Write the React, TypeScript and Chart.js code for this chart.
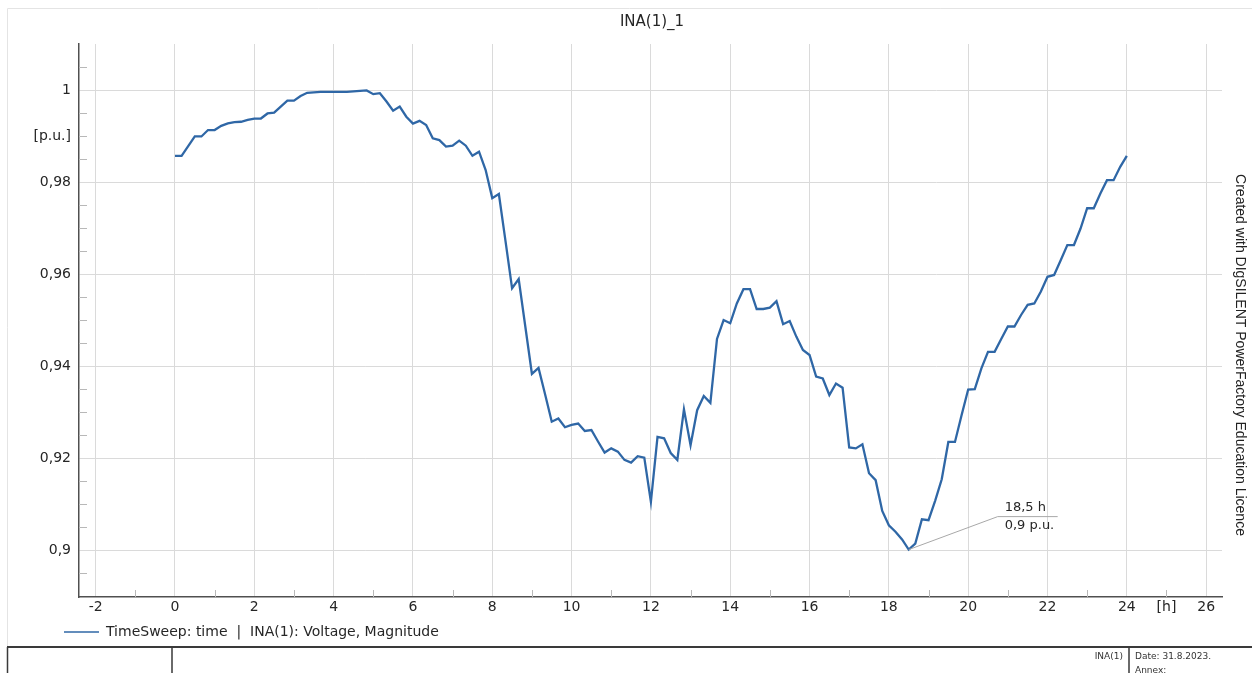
import React, { useEffect, useRef } from 'react';
import { Chart, registerables } from 'chart.js';

Chart.register(...registerables);

const TITLE = 'INA(1)_1';
const LEGEND_LABEL = 'TimeSweep: time  |  INA(1): Voltage, Magnitude';
const WATERMARK = 'Created with DIgSILENT PowerFactory Education Licence';
const FOOTER_OBJECT = 'INA(1)';
const FOOTER_DATE = 'Date: 31.8.2023.';
const FOOTER_ANNEX = 'Annex:';

// 10-minute time sweep (hours)
const STEP_HOURS = 1 / 6;

// Voltage magnitude [p.u.], one value per 10 min from 0 h to 24 h
const voltage: number[] = [
  // 0 h
  0.9857, 0.9857, 0.9878, 0.9899, 0.9899, 0.9913,
  // 1 h
  0.9913, 0.9922, 0.99275, 0.993, 0.9931, 0.9935,
  // 2 h
  0.9938, 0.9938, 0.9949, 0.9951, 0.9964, 0.9977,
  // 3 h
  0.9977, 0.9987, 0.9994, 0.9995, 0.9996, 0.9996,
  // 4 h
  0.9996, 0.9996, 0.9996, 0.9997, 0.9998, 0.9999,
  // 5 h
  0.9991, 0.9993, 0.9975, 0.9955, 0.9964, 0.9942,
  // 6 h
  0.9927, 0.9933, 0.9924, 0.9895, 0.9891, 0.9877,
  // 7 h
  0.9879, 0.989, 0.9879, 0.9857, 0.9866, 0.9826,
  // 8 h
  0.9765, 0.9774, 0.9672, 0.9569, 0.9589, 0.9486,
  // 9 h
  0.9383, 0.9396, 0.9338, 0.9279, 0.9286, 0.9267,
  // 10 h
  0.9272, 0.9275, 0.9259, 0.9261, 0.9236, 0.9212,
  // 11 h
  0.9221, 0.9214, 0.9196, 0.919, 0.9204, 0.9201,
  // 12 h
  0.9105, 0.9246, 0.9243, 0.9211, 0.9196, 0.9306,
  // 13 h
  0.9228, 0.9304, 0.9335, 0.932, 0.9459, 0.95,
  // 14 h
  0.9493, 0.9536, 0.9567, 0.9567, 0.9524, 0.9524,
  // 15 h
  0.9527, 0.9541, 0.9491, 0.9498, 0.9464, 0.9435,
  // 16 h
  0.9424, 0.9377, 0.9373, 0.9337, 0.9362, 0.9353,
  // 17 h
  0.9223, 0.9221, 0.923, 0.9167, 0.9152, 0.9085,
  // 18 h
  0.9054, 0.904, 0.9023, 0.9001, 0.9014, 0.9067,
  // 19 h
  0.9065, 0.9107, 0.9154, 0.9235, 0.9235, 0.9293,
  // 20 h
  0.9349, 0.935, 0.9395, 0.9431, 0.9431, 0.9459,
  // 21 h
  0.9486, 0.9486, 0.9511, 0.9533, 0.9536, 0.9562,
  // 22 h
  0.9594, 0.9598, 0.963, 0.9663, 0.9663, 0.9699,
  // 23 h
  0.9743, 0.9743, 0.9775, 0.9804, 0.9804, 0.9833,
  // 24 h
  0.9857,
];

const xTickValues = [-2, 0, 2, 4, 6, 8, 10, 12, 14, 16, 18, 20, 22, 24, 25, 26];
const xTickLabels = ['-2', '0', '2', '4', '6', '8', '10', '12', '14', '16', '18', '20', '22', '24', '[h]', '26'];
const xMinorTicks = [-1, 1, 3, 5, 7, 9, 11, 13, 15, 17, 19, 21, 23, 25];
const X_UNIT_TICK = 25;

const yTickValues = [0.9, 0.92, 0.94, 0.96, 0.98, 0.99, 1];
const yTickLabels = ['0,9', '0,92', '0,94', '0,96', '0,98', '[p.u.]', '1'];
const yMinorTicks = [0.895, 0.905, 0.91, 0.915, 0.925, 0.93, 0.935, 0.945, 0.95, 0.955, 0.965, 0.97, 0.975, 0.985, 0.99, 0.995, 1.005];
const Y_UNIT_TICK = 0.99;

const ANNOT_TIME = 18.5;
const annotationLabels = ['18,5 h', '0,9 p.u.'];

const LINE_COLOR = '#2f67a6';
const GRID_COLOR = '#dadada';
const AXIS_COLOR = '#505050';
const TEXT_COLOR = '#262626';
const FONT = '"DejaVu Sans", sans-serif';

const decorPlugin = {
  id: 'decor',
  afterDraw(chart: any) {
    const { ctx, chartArea, scales } = chart;
    const xs = scales.x;
    const ys = scales.y;
    ctx.save();

    // outer light frame
    ctx.strokeStyle = '#e4e4e4';
    ctx.lineWidth = 1;
    ctx.beginPath();
    ctx.moveTo(7.5, 647);
    ctx.lineTo(7.5, 8.5);
    ctx.lineTo(1252, 8.5);
    ctx.stroke();

    // minor ticks
    ctx.strokeStyle = '#b8b8b8';
    ctx.lineWidth = 1;
    ctx.beginPath();
    yMinorTicks.forEach((v) => {
      const py = Math.round(ys.getPixelForValue(v)) + 0.5;
      ctx.moveTo(chartArea.left, py);
      ctx.lineTo(chartArea.left + 8, py);
    });
    xMinorTicks.forEach((v) => {
      const px = Math.round(xs.getPixelForValue(v)) + 0.5;
      ctx.moveTo(px, chartArea.bottom);
      ctx.lineTo(px, chartArea.bottom - 7);
    });
    ctx.stroke();

    // title
    ctx.fillStyle = TEXT_COLOR;
    ctx.font = `15px ${FONT}`;
    ctx.textAlign = 'center';
    ctx.textBaseline = 'middle';
    ctx.fillText(TITLE, 652, 22);

    // annotation of minimum
    const idx = Math.round(ANNOT_TIME / STEP_HOURS);
    const px = xs.getPixelForValue(ANNOT_TIME);
    const py = ys.getPixelForValue(voltage[idx]);
    ctx.strokeStyle = '#a8a8a8';
    ctx.lineWidth = 1;
    ctx.beginPath();
    ctx.moveTo(px, py);
    ctx.lineTo(px + 89, py - 33);
    ctx.lineTo(px + 149, py - 33);
    ctx.stroke();
    ctx.font = `13px ${FONT}`;
    ctx.textAlign = 'left';
    ctx.fillStyle = TEXT_COLOR;
    ctx.fillText(annotationLabels[0], px + 96, py - 42);
    ctx.fillText(annotationLabels[1], px + 96, py - 24);

    // legend
    ctx.strokeStyle = LINE_COLOR;
    ctx.lineWidth = 1.6;
    ctx.beginPath();
    ctx.moveTo(64, 632);
    ctx.lineTo(99, 632);
    ctx.stroke();
    ctx.font = `14px ${FONT}`;
    ctx.fillStyle = TEXT_COLOR;
    ctx.textAlign = 'left';
    ctx.fillText(LEGEND_LABEL, 106, 632);

    // footer table
    ctx.strokeStyle = '#3a3a3a';
    ctx.lineWidth = 2;
    ctx.beginPath();
    ctx.moveTo(7, 647);
    ctx.lineTo(1252, 647);
    ctx.stroke();
    ctx.lineWidth = 1.5;
    ctx.beginPath();
    [7.5, 172, 1129].forEach((vx) => {
      ctx.moveTo(vx, 647);
      ctx.lineTo(vx, 673);
    });
    ctx.stroke();
    ctx.font = `9px ${FONT}`;
    ctx.fillStyle = '#333';
    ctx.textAlign = 'right';
    ctx.fillText(FOOTER_OBJECT, 1123, 657);
    ctx.textAlign = 'left';
    ctx.fillText(FOOTER_DATE, 1135, 657);
    ctx.fillText(FOOTER_ANNEX, 1135, 671);

    // watermark
    ctx.save();
    ctx.translate(1240, 355);
    ctx.rotate(Math.PI / 2);
    ctx.font = '14px "Liberation Sans", Arial, sans-serif';
    ctx.fillStyle = '#222';
    ctx.textAlign = 'center';
    ctx.textBaseline = 'middle';
    ctx.fillText(WATERMARK, 0, 0);
    ctx.restore();

    ctx.restore();
  },
};

export default function App() {
  const ref = useRef<HTMLCanvasElement>(null);

  useEffect(() => {
    if (!ref.current) return;
    const points = voltage.map((v, i) => ({ x: i * STEP_HOURS, y: v }));
    const chart = new Chart(ref.current, {
      type: 'line',
      data: {
        datasets: [
          {
            label: LEGEND_LABEL,
            data: points,
            borderColor: LINE_COLOR,
            borderWidth: 2.3,
            pointRadius: 0,
            tension: 0,
            fill: false,
          },
        ],
      },
      options: {
        responsive: false,
        maintainAspectRatio: false,
        devicePixelRatio: 1,
        animation: false,
        layout: { padding: { left: 0, top: 44, right: 30, bottom: 46 } },
        plugins: {
          legend: { display: false },
          title: { display: false },
          tooltip: { enabled: false },
        },
        scales: {
          x: {
            type: 'linear',
            min: -2.42,
            max: 26.4,
            afterFit: (scale: any) => {
              scale.height = 30;
            },
            afterBuildTicks: (scale: any) => {
              scale.ticks = xTickValues.map((v) => ({ value: v }));
            },
            ticks: {
              autoSkip: false,
              maxRotation: 0,
              padding: 2,
              color: TEXT_COLOR,
              font: { family: FONT, size: 14 },
              callback: (value: any) => xTickLabels[xTickValues.indexOf(Number(value))],
            },
            grid: {
              drawTicks: false,
              lineWidth: 1,
              color: (c: any) => (c.tick && c.tick.value === X_UNIT_TICK ? 'rgba(0,0,0,0)' : GRID_COLOR),
            },
            border: { display: true, color: AXIS_COLOR, width: 1.5 },
          },
          y: {
            type: 'linear',
            min: 0.8898,
            max: 1.01,
            afterFit: (scale: any) => {
              scale.width = 79;
            },
            afterBuildTicks: (scale: any) => {
              scale.ticks = yTickValues.map((v) => ({ value: v }));
            },
            ticks: {
              autoSkip: false,
              padding: 8,
              color: TEXT_COLOR,
              font: { family: FONT, size: 14 },
              callback: (value: any) => yTickLabels[yTickValues.indexOf(Number(value))],
            },
            grid: {
              drawTicks: false,
              lineWidth: 1,
              color: (c: any) => (c.tick && c.tick.value === Y_UNIT_TICK ? 'rgba(0,0,0,0)' : GRID_COLOR),
            },
            border: { display: true, color: AXIS_COLOR, width: 1.5 },
          },
        },
      },
      plugins: [decorPlugin],
    });
    return () => chart.destroy();
  }, []);

  return (
    <div style={{ position: 'absolute', left: 0, top: 0, width: 1252, height: 673, background: '#fff' }}>
      <canvas ref={ref} width={1252} height={673} style={{ display: 'block', width: 1252, height: 673 }} />
    </div>
  );
}
